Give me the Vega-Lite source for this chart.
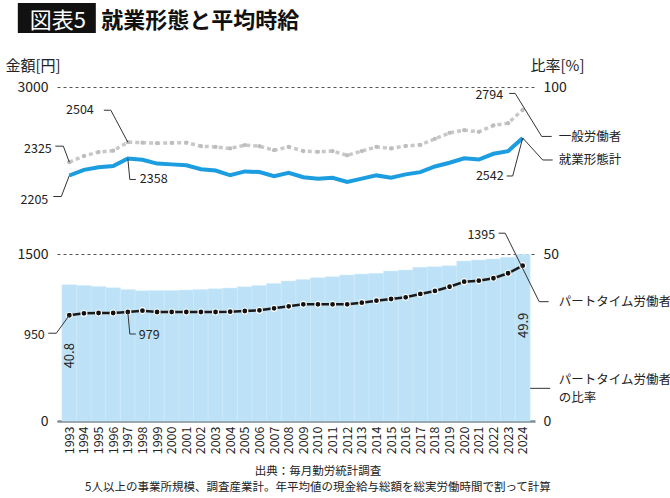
{
  "$schema": "https://vega.github.io/schema/vega-lite/v6.json",
  "width": 478,
  "height": 334,
  "autosize": {"type": "none"},
  "padding": {"left": 57, "top": 87, "right": 135, "bottom": 77},
  "background": "white",
  "config": {
    "view": {"stroke": null},
    "font": "Noto Sans CJK JP",
    "text": {"font": "Noto Sans CJK JP", "color": "#222"},
    "axis": {"labelFont": "Noto Sans CJK JP", "titleFont": "Noto Sans CJK JP", "labelColor": "#222", "titleColor": "#222"}
  },
  "datasets": {
    "wage": [
      {"year": 1993, "general": 2325, "total": 2205, "part": 950, "ratio": 40.8},
      {"year": 1994, "general": 2380, "total": 2256, "part": 967, "ratio": 40.6},
      {"year": 1995, "general": 2416, "total": 2280, "part": 970, "ratio": 40.3},
      {"year": 1996, "general": 2428, "total": 2290, "part": 970, "ratio": 39.9},
      {"year": 1997, "general": 2504, "total": 2358, "part": 979, "ratio": 39.4},
      {"year": 1998, "general": 2500, "total": 2347, "part": 991, "ratio": 39.0},
      {"year": 1999, "general": 2495, "total": 2312, "part": 979, "ratio": 39.1},
      {"year": 2000, "general": 2498, "total": 2305, "part": 979, "ratio": 39.1},
      {"year": 2001, "general": 2500, "total": 2297, "part": 979, "ratio": 39.2},
      {"year": 2002, "general": 2468, "total": 2262, "part": 979, "ratio": 39.4},
      {"year": 2003, "general": 2462, "total": 2250, "part": 979, "ratio": 39.6},
      {"year": 2004, "general": 2448, "total": 2207, "part": 982, "ratio": 39.8},
      {"year": 2005, "general": 2478, "total": 2242, "part": 988, "ratio": 40.2},
      {"year": 2006, "general": 2468, "total": 2236, "part": 994, "ratio": 40.6},
      {"year": 2007, "general": 2432, "total": 2198, "part": 1012, "ratio": 41.2},
      {"year": 2008, "general": 2462, "total": 2230, "part": 1030, "ratio": 41.9},
      {"year": 2009, "general": 2425, "total": 2190, "part": 1048, "ratio": 42.4},
      {"year": 2010, "general": 2418, "total": 2177, "part": 1048, "ratio": 42.9},
      {"year": 2011, "general": 2425, "total": 2185, "part": 1048, "ratio": 43.2},
      {"year": 2012, "general": 2386, "total": 2147, "part": 1048, "ratio": 43.7},
      {"year": 2013, "general": 2425, "total": 2177, "part": 1063, "ratio": 44.0},
      {"year": 2014, "general": 2462, "total": 2206, "part": 1081, "ratio": 44.2},
      {"year": 2015, "general": 2448, "total": 2186, "part": 1096, "ratio": 44.9},
      {"year": 2016, "general": 2470, "total": 2215, "part": 1111, "ratio": 45.2},
      {"year": 2017, "general": 2480, "total": 2235, "part": 1141, "ratio": 46.0},
      {"year": 2018, "general": 2535, "total": 2286, "part": 1168, "ratio": 46.2},
      {"year": 2019, "general": 2588, "total": 2320, "part": 1206, "ratio": 46.5},
      {"year": 2020, "general": 2612, "total": 2360, "part": 1251, "ratio": 47.9},
      {"year": 2021, "general": 2598, "total": 2348, "part": 1260, "ratio": 48.2},
      {"year": 2022, "general": 2655, "total": 2400, "part": 1282, "ratio": 48.5},
      {"year": 2023, "general": 2675, "total": 2424, "part": 1327, "ratio": 49.0},
      {"year": 2024, "general": 2794, "total": 2542, "part": 1395, "ratio": 49.9}
    ]
  },
  "data": {"name": "wage"},
  "encoding": {
    "x": {
      "field": "year",
      "type": "quantitative",
      "scale": {"domain": [1992.5, 2024.5], "nice": false, "zero": false},
      "axis": {
        "values": [1993, 1994, 1995, 1996, 1997, 1998, 1999, 2000, 2001, 2002, 2003, 2004, 2005, 2006, 2007, 2008, 2009, 2010, 2011, 2012, 2013, 2014, 2015, 2016, 2017, 2018, 2019, 2020, 2021, 2022, 2023, 2024],
        "format": "d",
        "labelAngle": -90,
        "labelAlign": "right",
        "labelBaseline": "middle",
        "labelFontSize": 12.5,
        "labelPadding": 5,
        "labelOverlap": false,
        "labelFlush": false,
        "ticks": false,
        "grid": false,
        "domainColor": "#7e8e9a",
        "domainWidth": 2.5,
        "title": null
      }
    }
  },
  "layer": [
    {
      "encoding": {
        "y": {
          "field": "ratio",
          "type": "quantitative",
          "scale": {"domain": [0, 100], "nice": false},
          "axis": {
            "orient": "right",
            "values": [0, 50, 100],
            "format": "d",
            "grid": false,
            "domain": false,
            "ticks": false,
            "labelOverlap": false,
            "labelFlush": false,
            "labelPadding": 8,
            "labelFontSize": 14,
            "title": "比率[%]",
            "titleAngle": 0,
            "titleAlign": "left",
            "titleBaseline": "middle",
            "titleFontWeight": "normal",
            "titleFontSize": 15,
            "titleX": -5,
            "titleY": -22
          }
        }
      },
      "layer": [
        {"mark": {"type": "bar", "width": 14.94, "fill": "#bde2f7", "stroke": "#d4ecfa", "strokeWidth": 0.5}},
        {
          "transform": [{"filter": "datum.year == 1993 || datum.year == 2024"}],
          "mark": {"type": "text", "angle": 270, "align": "center", "baseline": "middle", "fontSize": 13, "yOffset": 71, "xOffset": 1},
          "encoding": {"text": {"field": "ratio", "type": "quantitative", "format": ".1f"}}
        },
        {
          "transform": [{"filter": "datum.year == 2024"}],
          "mark": {"type": "rule", "color": "#333", "strokeWidth": 1, "xOffset": 7.5, "yOffset": 134, "x2Offset": 27.5, "y2Offset": 134},
          "encoding": {"x2": {"field": "year"}, "y2": {"field": "ratio"}}
        },
        {
          "transform": [{"filter": "datum.year == 2024"}],
          "mark": {"type": "text", "text": "パートタイム労働者\nの比率", "lineBreak": "\n", "lineHeight": 18, "align": "left", "baseline": "top", "fontSize": 12.5, "dx": 36, "dy": 120}
        }
      ]
    },
    {
      "transform": [{"fold": ["general", "total", "part"], "as": ["series", "value"]}],
      "encoding": {
        "y": {
          "field": "value",
          "type": "quantitative",
          "scale": {"domain": [0, 3000], "nice": false},
          "axis": {
            "values": [0, 1500, 3000],
            "format": "d",
            "grid": true,
            "gridDash": [3, 3],
            "gridColor": "#555",
            "gridWidth": 1,
            "domain": false,
            "ticks": false,
            "labelOverlap": false,
            "labelFlush": false,
            "labelPadding": 9,
            "labelFontSize": 14,
            "title": "金額[円]",
            "titleAngle": 0,
            "titleAlign": "left",
            "titleBaseline": "middle",
            "titleFontWeight": "normal",
            "titleFontSize": 15,
            "titleX": -52,
            "titleY": -22
          }
        }
      },
      "layer": [
        {"transform": [{"filter": "datum.series == 'general'"}], "mark": {"type": "line", "color": "#c8c8c8", "strokeWidth": 3.5, "strokeDash": [4, 3]}},
        {"transform": [{"filter": "datum.series == 'general'"}], "mark": {"type": "circle", "color": "#bdbdbd", "size": 18, "opacity": 1}},
        {"transform": [{"filter": "datum.series == 'total'"}], "mark": {"type": "line", "color": "#1b9de0", "strokeWidth": 4}},
        {"transform": [{"filter": "datum.series == 'part'"}], "mark": {"type": "line", "color": "#1a1a1a", "strokeWidth": 2.5}},
        {"transform": [{"filter": "datum.series == 'part'"}], "mark": {"type": "circle", "fill": "#111", "stroke": "#fff", "strokeWidth": 1.2, "size": 36, "opacity": 1}},

        {"transform": [{"filter": "datum.year == 1993 && datum.series == 'general'"}], "mark": {"type": "text", "align": "right", "baseline": "middle", "fontSize": 12.5, "dx": -17.5, "dy": -13}, "encoding": {"text": {"field": "value", "type": "quantitative", "format": "d"}}},
        {"transform": [{"filter": "datum.year == 1993 && datum.series == 'general'"}], "mark": {"type": "rule", "color": "#333", "strokeWidth": 1, "x2Offset": -6, "y2Offset": -16}, "encoding": {"x2": {"field": "year"}, "y2": {"field": "value"}}},
        {"transform": [{"filter": "datum.year == 1993 && datum.series == 'general'"}], "mark": {"type": "rule", "color": "#333", "strokeWidth": 1, "xOffset": -6, "yOffset": -16, "x2Offset": -14, "y2Offset": -16}, "encoding": {"x2": {"field": "year"}, "y2": {"field": "value"}}},

        {"transform": [{"filter": "datum.year == 1993 && datum.series == 'total'"}], "mark": {"type": "text", "align": "right", "baseline": "middle", "fontSize": 12.5, "dx": -21, "dy": 24.5}, "encoding": {"text": {"field": "value", "type": "quantitative", "format": "d"}}},
        {"transform": [{"filter": "datum.year == 1993 && datum.series == 'total'"}], "mark": {"type": "rule", "color": "#333", "strokeWidth": 1, "x2Offset": -8, "y2Offset": 21}, "encoding": {"x2": {"field": "year"}, "y2": {"field": "value"}}},
        {"transform": [{"filter": "datum.year == 1993 && datum.series == 'total'"}], "mark": {"type": "rule", "color": "#333", "strokeWidth": 1, "xOffset": -8, "yOffset": 21, "x2Offset": -16, "y2Offset": 21}, "encoding": {"x2": {"field": "year"}, "y2": {"field": "value"}}},

        {"transform": [{"filter": "datum.year == 1997 && datum.series == 'general'"}], "mark": {"type": "text", "align": "right", "baseline": "middle", "fontSize": 12.5, "dx": -34, "dy": -32}, "encoding": {"text": {"field": "value", "type": "quantitative", "format": "d"}}},
        {"transform": [{"filter": "datum.year == 1997 && datum.series == 'general'"}], "mark": {"type": "rule", "color": "#333", "strokeWidth": 1, "x2Offset": -17, "y2Offset": -32}, "encoding": {"x2": {"field": "year"}, "y2": {"field": "value"}}},
        {"transform": [{"filter": "datum.year == 1997 && datum.series == 'general'"}], "mark": {"type": "rule", "color": "#333", "strokeWidth": 1, "xOffset": -17, "yOffset": -32, "x2Offset": -24, "y2Offset": -32}, "encoding": {"x2": {"field": "year"}, "y2": {"field": "value"}}},

        {"transform": [{"filter": "datum.year == 1997 && datum.series == 'total'"}], "mark": {"type": "text", "align": "left", "baseline": "middle", "fontSize": 12.5, "dx": 12, "dy": 21}, "encoding": {"text": {"field": "value", "type": "quantitative", "format": "d"}}},
        {"transform": [{"filter": "datum.year == 1997 && datum.series == 'total'"}], "mark": {"type": "rule", "color": "#333", "strokeWidth": 1, "x2Offset": 2, "y2Offset": 21}, "encoding": {"x2": {"field": "year"}, "y2": {"field": "value"}}},
        {"transform": [{"filter": "datum.year == 1997 && datum.series == 'total'"}], "mark": {"type": "rule", "color": "#333", "strokeWidth": 1, "xOffset": 2, "yOffset": 21, "x2Offset": 8, "y2Offset": 21}, "encoding": {"x2": {"field": "year"}, "y2": {"field": "value"}}},

        {"transform": [{"filter": "datum.year == 1993 && datum.series == 'part'"}], "mark": {"type": "text", "align": "right", "baseline": "middle", "fontSize": 12.5, "dx": -24.5, "dy": 20}, "encoding": {"text": {"field": "value", "type": "quantitative", "format": "d"}}},
        {"transform": [{"filter": "datum.year == 1993 && datum.series == 'part'"}], "mark": {"type": "rule", "color": "#333", "strokeWidth": 1, "x2Offset": -13, "y2Offset": 18}, "encoding": {"x2": {"field": "year"}, "y2": {"field": "value"}}},
        {"transform": [{"filter": "datum.year == 1993 && datum.series == 'part'"}], "mark": {"type": "rule", "color": "#333", "strokeWidth": 1, "xOffset": -13, "yOffset": 18, "x2Offset": -21, "y2Offset": 18}, "encoding": {"x2": {"field": "year"}, "y2": {"field": "value"}}},

        {"transform": [{"filter": "datum.year == 1997 && datum.series == 'part'"}], "mark": {"type": "text", "align": "left", "baseline": "middle", "fontSize": 12.5, "dx": 11, "dy": 23}, "encoding": {"text": {"field": "value", "type": "quantitative", "format": "d"}}},
        {"transform": [{"filter": "datum.year == 1997 && datum.series == 'part'"}], "mark": {"type": "rule", "color": "#333", "strokeWidth": 1, "x2Offset": 2, "y2Offset": 22}, "encoding": {"x2": {"field": "year"}, "y2": {"field": "value"}}},
        {"transform": [{"filter": "datum.year == 1997 && datum.series == 'part'"}], "mark": {"type": "rule", "color": "#333", "strokeWidth": 1, "xOffset": 2, "yOffset": 22, "x2Offset": 8, "y2Offset": 22}, "encoding": {"x2": {"field": "year"}, "y2": {"field": "value"}}},

        {"transform": [{"filter": "datum.year == 2024 && datum.series == 'general'"}], "mark": {"type": "text", "align": "right", "baseline": "middle", "fontSize": 12.5, "dx": -19.5, "dy": -15}, "encoding": {"text": {"field": "value", "type": "quantitative", "format": "d"}}},
        {"transform": [{"filter": "datum.year == 2024 && datum.series == 'general'"}], "mark": {"type": "rule", "color": "#333", "strokeWidth": 1, "xOffset": -13.5, "yOffset": -16.5, "x2Offset": -7.5, "y2Offset": -16.5}, "encoding": {"x2": {"field": "year"}, "y2": {"field": "value"}}},
        {"transform": [{"filter": "datum.year == 2024 && datum.series == 'general'"}], "mark": {"type": "rule", "color": "#333", "strokeWidth": 1, "xOffset": -7.5, "yOffset": -16.5, "x2Offset": 19, "y2Offset": 26.5}, "encoding": {"x2": {"field": "year"}, "y2": {"field": "value"}}},
        {"transform": [{"filter": "datum.year == 2024 && datum.series == 'general'"}], "mark": {"type": "rule", "color": "#333", "strokeWidth": 1, "xOffset": 19, "yOffset": 26.5, "x2Offset": 29, "y2Offset": 26.5}, "encoding": {"x2": {"field": "year"}, "y2": {"field": "value"}}},
        {"transform": [{"filter": "datum.year == 2024 && datum.series == 'general'"}], "mark": {"type": "text", "text": "一般労働者", "align": "left", "baseline": "middle", "fontSize": 12.5, "dx": 36, "dy": 27}},

        {"transform": [{"filter": "datum.year == 2024 && datum.series == 'total'"}], "mark": {"type": "text", "align": "right", "baseline": "middle", "fontSize": 12.5, "dx": -19, "dy": 38.5}, "encoding": {"text": {"field": "value", "type": "quantitative", "format": "d"}}},
        {"transform": [{"filter": "datum.year == 2024 && datum.series == 'total'"}], "mark": {"type": "rule", "color": "#333", "strokeWidth": 1, "xOffset": -16, "yOffset": 38, "x2Offset": -10, "y2Offset": 38}, "encoding": {"x2": {"field": "year"}, "y2": {"field": "value"}}},
        {"transform": [{"filter": "datum.year == 2024 && datum.series == 'total'"}], "mark": {"type": "rule", "color": "#333", "strokeWidth": 1, "xOffset": -10, "yOffset": 38, "x2Offset": 0, "y2Offset": 0}, "encoding": {"x2": {"field": "year"}, "y2": {"field": "value"}}},
        {"transform": [{"filter": "datum.year == 2024 && datum.series == 'total'"}], "mark": {"type": "rule", "color": "#333", "strokeWidth": 1, "x2Offset": 20, "y2Offset": 22}, "encoding": {"x2": {"field": "year"}, "y2": {"field": "value"}}},
        {"transform": [{"filter": "datum.year == 2024 && datum.series == 'total'"}], "mark": {"type": "rule", "color": "#333", "strokeWidth": 1, "xOffset": 20, "yOffset": 22, "x2Offset": 30, "y2Offset": 22}, "encoding": {"x2": {"field": "year"}, "y2": {"field": "value"}}},
        {"transform": [{"filter": "datum.year == 2024 && datum.series == 'total'"}], "mark": {"type": "text", "text": "就業形態計", "align": "left", "baseline": "middle", "fontSize": 12.5, "dx": 36, "dy": 22}},

        {"transform": [{"filter": "datum.year == 2024 && datum.series == 'part'"}], "mark": {"type": "text", "align": "right", "baseline": "middle", "fontSize": 12.5, "dx": -27.5, "dy": -30.5}, "encoding": {"text": {"field": "value", "type": "quantitative", "format": "d"}}},
        {"transform": [{"filter": "datum.year == 2024 && datum.series == 'part'"}], "mark": {"type": "rule", "color": "#333", "strokeWidth": 1, "xOffset": -24, "yOffset": -32.5, "x2Offset": -17.5, "y2Offset": -32.5}, "encoding": {"x2": {"field": "year"}, "y2": {"field": "value"}}},
        {"transform": [{"filter": "datum.year == 2024 && datum.series == 'part'"}], "mark": {"type": "rule", "color": "#333", "strokeWidth": 1, "xOffset": -17.5, "yOffset": -32.5, "x2Offset": 16.5, "y2Offset": 36}, "encoding": {"x2": {"field": "year"}, "y2": {"field": "value"}}},
        {"transform": [{"filter": "datum.year == 2024 && datum.series == 'part'"}], "mark": {"type": "rule", "color": "#333", "strokeWidth": 1, "xOffset": 16.5, "yOffset": 36, "x2Offset": 26, "y2Offset": 36}, "encoding": {"x2": {"field": "year"}, "y2": {"field": "value"}}},
        {"transform": [{"filter": "datum.year == 2024 && datum.series == 'part'"}], "mark": {"type": "text", "text": "パートタイム労働者", "align": "left", "baseline": "middle", "fontSize": 12.5, "dx": 36, "dy": 36}}
      ]
    },
    {
      "encoding": {
        "y": {"datum": 3000, "type": "quantitative", "scale": {"domain": [0, 3000], "nice": false}, "axis": null}
      },
      "layer": [
        {
          "transform": [{"filter": "datum.year == 1993"}],
          "mark": {"type": "rect", "fill": "#111", "xOffset": -51.5, "x2Offset": 26.5, "yOffset": -84, "y2Offset": -54},
          "encoding": {"x2": {"field": "year"}, "y2": {"datum": 3000}}
        },
        {
          "transform": [{"filter": "datum.year == 1993"}],
          "mark": {"type": "text", "text": "図表5", "color": "#fff", "align": "center", "baseline": "middle", "fontSize": 22, "dx": -11.5, "dy": -66.5}
        },
        {
          "transform": [{"filter": "datum.year == 1993"}],
          "mark": {"type": "text", "text": "就業形態と平均時給", "color": "#111", "align": "left", "baseline": "middle", "fontSize": 22, "fontWeight": "bold", "dx": 32, "dy": -66.5}
        },
        {
          "transform": [{"filter": "datum.year == 2010"}],
          "mark": {"type": "text", "text": "出典：毎月勤労統計調査", "align": "center", "baseline": "middle", "fontSize": 11.5, "dy": 385}
        },
        {
          "transform": [{"filter": "datum.year == 2010"}],
          "mark": {"type": "text", "text": "5人以上の事業所規模、調査産業計。年平均値の現金給与総額を総実労働時間で割って計算", "align": "center", "baseline": "middle", "fontSize": 11.5, "dy": 401}
        }
      ]
    }
  ],
  "resolve": {"scale": {"y": "independent"}, "axis": {"y": "independent"}}
}
